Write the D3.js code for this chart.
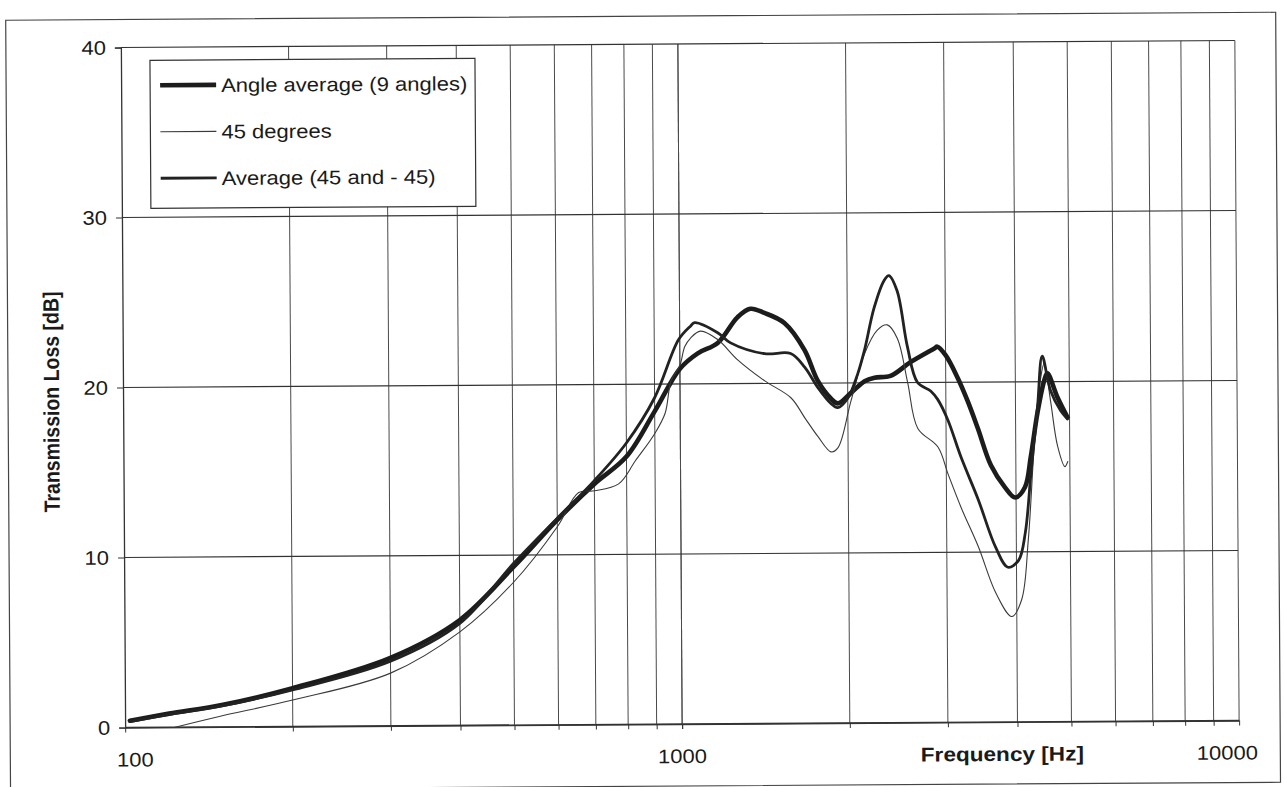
<!DOCTYPE html>
<html>
<head>
<meta charset="utf-8">
<script src="https://cdn.jsdelivr.net/npm/d3@7"></script>
<style>
  body { margin: 0; background: #fff; }
  text { font-family: Arial, "Liberation Sans", sans-serif; fill: #1a1a1a; }
</style>
</head>
<body>
<svg width="1284" height="787"></svg>
<script>
// Angle average (9 angles)
const freqAngleAvg = [102, 120, 150, 200, 300, 400, 500, 600, 700, 800, 900, 1000, 1077, 1170, 1270, 1340, 1420, 1542, 1675, 1767, 1865, 1919, 2025, 2145, 2235, 2388, 2594, 2864, 2900, 3000, 3148, 3282, 3420, 3608, 3822, 3985, 4151, 4256, 4381, 4510, 4567, 4756, 4958]
const tlAngleAvg = [0.4, 0.8, 1.3, 2.25, 4.0, 6.2, 9.3, 12.05, 14.15, 15.75, 18.4, 20.9, 21.8, 22.4, 23.9, 24.4, 24.15, 23.55, 21.95, 20.15, 19.1, 18.8, 19.4, 20.1, 20.3, 20.4, 21.2, 22.0, 22.1, 21.6, 20.3, 18.9, 17.3, 15.1, 13.8, 13.2, 13.8, 15.6, 18.2, 20.1, 20.5, 19.1, 17.9]

// 45 degrees
const freq45 = [123, 147, 200, 300, 400, 500, 600, 656, 700, 774, 830, 900, 940, 964, 1000, 1021, 1046, 1090, 1170, 1270, 1420, 1581, 1675, 1767, 1865, 1919, 2025, 2145, 2264, 2359, 2459, 2563, 2670, 2900, 3022, 3189, 3420, 3669, 3918, 4084, 4203, 4326, 4436, 4510, 4623, 4756, 4898, 4958]
const tl45 = [0, 0.6, 1.55, 3.1, 5.5, 8.4, 11.65, 13.65, 13.75, 14.15, 15.5, 17.1, 18.3, 20.2, 21.1, 22.2, 22.7, 23.1, 22.6, 21.4, 20.15, 19.15, 17.95, 16.85, 15.95, 16.2, 18.9, 21.7, 23.1, 23.4, 22.6, 20.0, 17.3, 16.2, 14.6, 12.6, 10.3, 7.6, 6.2, 7.2, 10.7, 16.6, 20.1, 21.1, 18.9, 16.2, 15.0, 15.3]

// Average (45 and -45)
const freqAvg45 = [102, 120, 150, 200, 300, 400, 500, 600, 700, 800, 900, 995, 1046, 1064, 1170, 1234, 1420, 1581, 1675, 1767, 1865, 1919, 2000, 2084, 2145, 2235, 2330, 2378, 2459, 2563, 2670, 2818, 2900, 3022, 3189, 3420, 3669, 3860, 4035, 4151, 4256, 4381, 4473, 4623, 4818, 4958]
const tlAvg45 = [0.35, 0.75, 1.25, 2.15, 3.8, 6.0, 9.5, 12.15, 14.35, 16.55, 19.2, 22.6, 23.4, 23.6, 23.0, 22.4, 21.75, 21.75, 20.95, 19.75, 18.8, 18.55, 19.1, 20.5, 21.9, 24.4, 26.0, 26.3, 25.4, 22.1, 20.0, 19.5, 19.0, 17.8, 15.6, 13.1, 10.3, 9.1, 9.5, 11.1, 14.6, 18.5, 21.5, 19.5, 18.3, 17.8]

const seriesNames = ['Angle average (9 angles)', '45 degrees', 'Average (45 and - 45)']
const yTicks = [0, 10, 20, 30, 40]
const xLabels = ['100', '1000', '10000']

const series = [
  { name: seriesNames[0], values: d3.zip(freqAngleAvg, tlAngleAvg), width: 4.6, color: '#1c1c1c' },
  { name: seriesNames[1], values: d3.zip(freq45, tl45), width: 1.1, color: '#3a3a3a' },
  { name: seriesNames[2], values: d3.zip(freqAvg45, tlAvg45), width: 2.8, color: '#222' },
]

const SX = 1.13   // scanned page is a bit wider than tall

const x = d3.scaleLog().domain([100, 10000]).range([123, 1237])
const y = d3.scaleLinear().domain([0, 40]).range([724, 44])

const svg = d3.select('svg')
const g = svg.append('g').attr('transform', 'rotate(-0.36 680 385)')

// outer frame
g.append('rect')
    .attr('x', 8).attr('y', 16).attr('width', 1270).attr('height', 770)
    .attr('fill', 'none').attr('stroke', '#444').attr('stroke-width', 1.2)

// grid
const minorFreqs = d3.range(2, 11).map(d => d * 100).concat(d3.range(1, 11).map(d => d * 1000))
g.append('g').selectAll('line')
    .data(minorFreqs)
  .enter().append('line')
    .attr('x1', d => x(d)).attr('x2', d => x(d))
    .attr('y1', y(40)).attr('y2', y(0))
    .attr('stroke', '#4a4a4a').attr('stroke-width', 1)

g.append('g').selectAll('line')
    .data(yTicks)
  .enter().append('line')
    .attr('x1', x(100)).attr('x2', x(10000))
    .attr('y1', d => y(d)).attr('y2', d => y(d))
    .attr('stroke', '#333').attr('stroke-width', d => d === 0 ? 1.4 : 1.2)

// axes (ticks only, labels drawn below)
g.append('g')
    .attr('transform', `translate(${x(100)},0)`)
    .call(d3.axisLeft(y).tickValues(yTicks).tickSize(6).tickFormat(''))
    .call(a => a.select('.domain').attr('stroke', '#333').attr('stroke-width', 1.3))
    .call(a => a.selectAll('.tick line').attr('stroke', '#333'))

g.append('g')
    .attr('transform', `translate(0,${y(0)})`)
    .call(d3.axisBottom(x).tickValues([100].concat(minorFreqs)).tickSize(5).tickSizeOuter(0).tickFormat(''))
    .call(a => a.select('.domain').attr('stroke', '#333').attr('stroke-width', 1.4))
    .call(a => a.selectAll('.tick line').attr('stroke', '#333'))

// y tick labels
g.append('g').selectAll('text')
    .data(yTicks)
  .enter().append('text')
    .attr('transform', d => `translate(108,${y(d) + 7}) scale(${SX},1)`)
    .attr('text-anchor', 'end')
    .attr('font-size', 19.5)
    .text(d => d)

// x tick labels (Excel nudges the end labels inside the plot)
const xLabelPos = [133, x(1000), 1225]
g.append('g').selectAll('text')
    .data(xLabels)
  .enter().append('text')
    .attr('transform', (d, i) => `translate(${xLabelPos[i]},763) scale(${SX},1)`)
    .attr('text-anchor', 'middle')
    .attr('font-size', 19.5)
    .text(d => d)

g.append('text')
    .attr('transform', `translate(1000,763) scale(${SX},1)`)
    .attr('text-anchor', 'middle')
    .attr('font-size', 20)
    .attr('font-weight', 'bold')
    .text('Frequency [Hz]')

g.append('text')
    .attr('transform', `translate(59,398) scale(${SX},1) rotate(-90)`)
    .attr('text-anchor', 'middle')
    .attr('font-size', 19.5)
    .attr('font-weight', 'bold')
    .text('Transmission Loss [dB]')

// curves
const line = d3.line()
    .x(d => x(d[0]))
    .y(d => y(d[1]))
    .curve(d3.curveCatmullRom.alpha(0.5))

g.append('g').selectAll('path')
    .data(series)
  .enter().append('path')
    .attr('d', d => line(d.values))
    .attr('fill', 'none')
    .attr('stroke', d => d.color)
    .attr('stroke-width', d => d.width)
    .attr('stroke-linejoin', 'round')
    .attr('stroke-linecap', 'round')

// legend
const legend = g.append('g').attr('transform', 'translate(152,57)')
legend.append('rect')
    .attr('width', 325).attr('height', 148)
    .attr('fill', '#fff').attr('stroke', '#333').attr('stroke-width', 1.2)

const item = legend.selectAll('.item')
    .data(series)
  .enter().append('g')
    .attr('class', 'item')
    .attr('transform', (d, i) => `translate(0,${25 + i * 46.5})`)

item.append('line')
    .attr('x1', 10).attr('x2', 66)
    .attr('stroke', d => d.color)
    .attr('stroke-width', d => d.width)

item.append('text')
    .attr('transform', `translate(71,7) scale(${SX},1)`)
    .attr('font-size', 19.5)
    .text(d => d.name)
</script>
</body>
</html>
